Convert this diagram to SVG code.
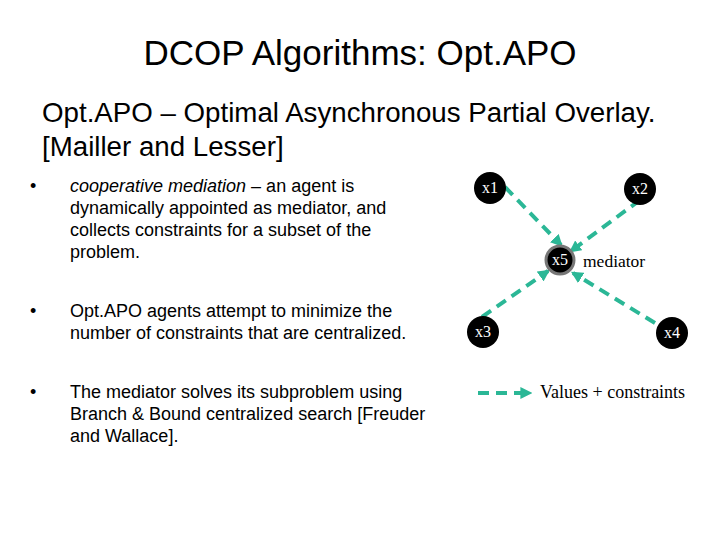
<svg xmlns="http://www.w3.org/2000/svg" width="720" height="540" viewBox="0 0 720 540">
<style>
.t{font-family:"Liberation Sans",Arial,sans-serif;fill:#000}
.s{font-family:"Liberation Serif","Times New Roman",serif;fill:#000}
.n{fill:#000}
.nl{font-family:"Liberation Serif",serif;font-size:16px;fill:#fff;text-anchor:middle}
.e{stroke:#2bb796;stroke-width:4;stroke-dasharray:11,7;fill:none}
</style>
<defs><marker id="a" viewBox="0 0 10 10" refX="8" refY="5" markerWidth="3" markerHeight="3" orient="auto" markerUnits="strokeWidth"><path d="M0,0L10,5L0,10z" fill="#2bb796"/></marker></defs>
<rect width="720" height="540" fill="#fff"/>
<text class="t" x="360" y="65" font-size="35" text-anchor="middle">DCOP Algorithms: Opt.APO</text>
<text class="t" x="42" y="122" font-size="27.7">Opt.APO – Optimal Asynchronous Partial Overlay.</text>
<text class="t" x="42" y="156" font-size="27.7">[Mailler and Lesser]</text>
<g class="t" font-size="18">
<text x="30" y="192">•</text>
<text x="70" y="192"><tspan font-style="italic">cooperative mediation</tspan> – an agent is</text>
<text x="70" y="214">dynamically appointed as mediator, and</text>
<text x="70" y="236">collects constraints for a subset of the</text>
<text x="70" y="258">problem.</text>
<text x="30" y="317">•</text>
<text x="70" y="317">Opt.APO agents attempt to minimize the</text>
<text x="70" y="339">number of constraints that are centralized.</text>
<text x="30" y="398">•</text>
<text x="70" y="398">The mediator solves its subproblem using</text>
<text x="70" y="420">Branch &amp; Bound centralized search [Freuder</text>
<text x="70" y="442">and Wallace].</text>
</g>
<g id="edges">
<line class="e" x1="505" y1="187" x2="561" y2="245" marker-end="url(#a)"/>
<line class="e" x1="640" y1="200" x2="571" y2="251" marker-end="url(#a)"/>
<line class="e" x1="482" y1="317" x2="548" y2="271" marker-end="url(#a)"/>
<line class="e" x1="655" y1="323" x2="573" y2="273" marker-end="url(#a)"/>
<line class="e" x1="478" y1="393" x2="530" y2="393" marker-end="url(#a)"/>
</g>
<g id="x1"><circle class="n" cx="490" cy="188" r="16"/><text class="nl" x="490" y="193">x1</text></g>
<g id="x2"><circle class="n" cx="640" cy="189" r="16"/><text class="nl" x="640" y="194">x2</text></g>
<g id="x5"><circle class="n" cx="560" cy="260" r="14" stroke="#777" stroke-width="3"/><text class="nl" x="560" y="265">x5</text><text class="s" x="583" y="267" font-size="17.5">mediator</text></g>
<g id="x3"><circle class="n" cx="483" cy="332" r="16"/><text class="nl" x="483" y="337">x3</text></g>
<g id="x4"><circle class="n" cx="672" cy="333" r="16"/><text class="nl" x="672" y="338">x4</text></g>
<text class="s" x="540" y="398" font-size="18">Values + constraints</text>
</svg>
